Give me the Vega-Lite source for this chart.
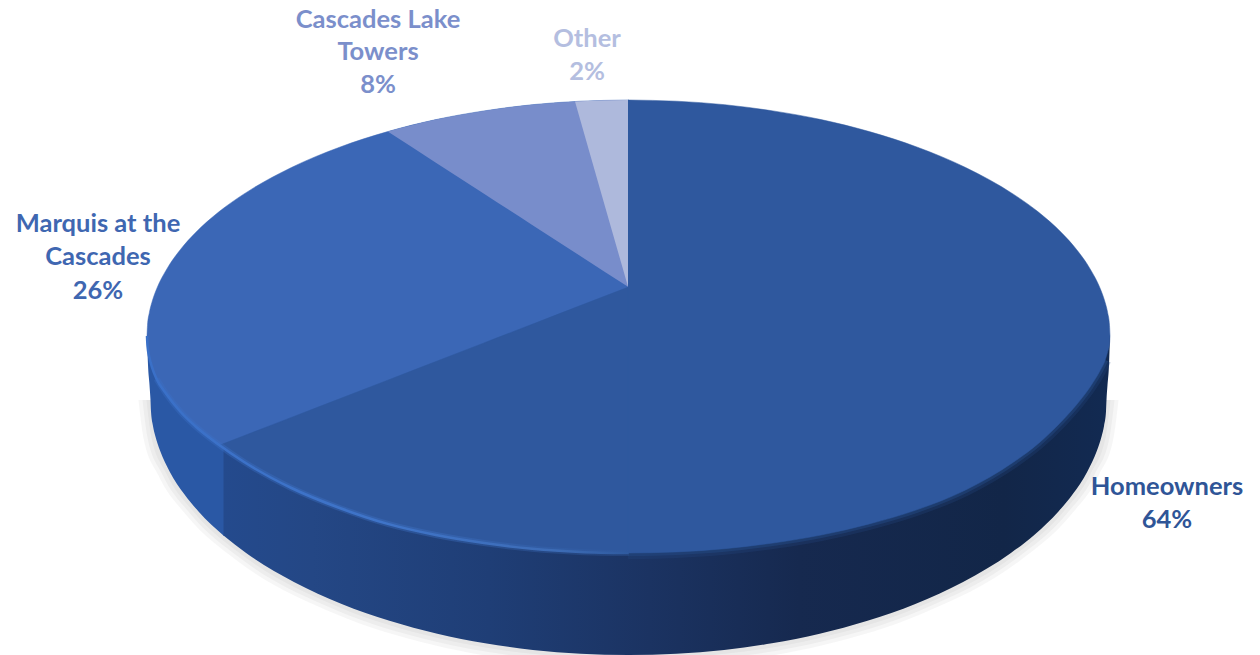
{
  "$schema": "https://vega.github.io/schema/vega-lite/v6.json",
  "width": 1260,
  "height": 655,
  "autosize": {"type": "fit", "contains": "padding"},
  "padding": 0,
  "background": "#ffffff",
  "config": {"view": {"stroke": null}},
  "datasets": {
    "shadow": [
      {"ring": 1, "x": 146.5, "y": 400, "y2": 400}, {"ring": 1, "x": 151.3, "y": 400, "y2": 436.5}, {"ring": 1, "x": 165.8, "y": 400, "y2": 472.5}, {"ring": 1, "x": 194.7, "y": 400, "y2": 512.9}, {"ring": 1, "x": 242.9, "y": 400, "y2": 555.4}, {"ring": 1, "x": 339.3, "y": 400, "y2": 607.2}, {"ring": 1, "x": 435.7, "y": 400, "y2": 637.5}, {"ring": 1, "x": 532.1, "y": 400, "y2": 653.8}, {"ring": 1, "x": 628.5, "y": 400, "y2": 659}, {"ring": 1, "x": 724.9, "y": 400, "y2": 653.8}, {"ring": 1, "x": 821.3, "y": 400, "y2": 637.5}, {"ring": 1, "x": 917.7, "y": 400, "y2": 607.2}, {"ring": 1, "x": 1014.1, "y": 400, "y2": 555.4}, {"ring": 1, "x": 1062.3, "y": 400, "y2": 512.9}, {"ring": 1, "x": 1091.2, "y": 400, "y2": 472.5}, {"ring": 1, "x": 1105.7, "y": 400, "y2": 436.5}, {"ring": 1, "x": 1110.5, "y": 400, "y2": 400},
      {"ring": 2, "x": 142.5, "y": 400, "y2": 400}, {"ring": 2, "x": 147.4, "y": 400, "y2": 437}, {"ring": 2, "x": 161.9, "y": 400, "y2": 473.6}, {"ring": 2, "x": 191.1, "y": 400, "y2": 514.7}, {"ring": 2, "x": 239.7, "y": 400, "y2": 557.8}, {"ring": 2, "x": 336.9, "y": 400, "y2": 610.4}, {"ring": 2, "x": 434.1, "y": 400, "y2": 641.2}, {"ring": 2, "x": 531.3, "y": 400, "y2": 657.7}, {"ring": 2, "x": 628.5, "y": 400, "y2": 663}, {"ring": 2, "x": 725.7, "y": 400, "y2": 657.7}, {"ring": 2, "x": 822.9, "y": 400, "y2": 641.2}, {"ring": 2, "x": 920.1, "y": 400, "y2": 610.4}, {"ring": 2, "x": 1017.3, "y": 400, "y2": 557.8}, {"ring": 2, "x": 1065.9, "y": 400, "y2": 514.7}, {"ring": 2, "x": 1095.1, "y": 400, "y2": 473.6}, {"ring": 2, "x": 1109.6, "y": 400, "y2": 437}, {"ring": 2, "x": 1114.5, "y": 400, "y2": 400},
      {"ring": 3, "x": 138.5, "y": 400, "y2": 400}, {"ring": 3, "x": 143.4, "y": 400, "y2": 437.6}, {"ring": 3, "x": 158.1, "y": 400, "y2": 474.8}, {"ring": 3, "x": 187.5, "y": 400, "y2": 516.4}, {"ring": 3, "x": 236.5, "y": 400, "y2": 560.2}, {"ring": 3, "x": 334.5, "y": 400, "y2": 613.6}, {"ring": 3, "x": 432.5, "y": 400, "y2": 644.8}, {"ring": 3, "x": 530.5, "y": 400, "y2": 661.7}, {"ring": 3, "x": 628.5, "y": 400, "y2": 667}, {"ring": 3, "x": 726.5, "y": 400, "y2": 661.7}, {"ring": 3, "x": 824.5, "y": 400, "y2": 644.8}, {"ring": 3, "x": 922.5, "y": 400, "y2": 613.6}, {"ring": 3, "x": 1020.5, "y": 400, "y2": 560.2}, {"ring": 3, "x": 1069.5, "y": 400, "y2": 516.4}, {"ring": 3, "x": 1099, "y": 400, "y2": 474.8}, {"ring": 3, "x": 1113.6, "y": 400, "y2": 437.6}, {"ring": 3, "x": 1118.5, "y": 400, "y2": 400}
    ],
    "rimMarquis": [
      {"x": 147, "y": 336, "y2": 336}, {"x": 148, "y": 336, "y2": 365}, {"x": 149.5, "y": 336, "y2": 385}, {"x": 150.5, "y": 336, "y2": 400}, {"x": 151, "y": 336, "y2": 411.4}, {"x": 152.9, "y": 336, "y2": 425.5}, {"x": 155.3, "y": 336, "y2": 436}, {"x": 160.1, "y": 336, "y2": 450.7}, {"x": 169.6, "y": 336, "y2": 471.4}, {"x": 184, "y": 336, "y2": 493.8}, {"x": 198.3, "y": 336, "y2": 511.2}, {"x": 224, "y": 336, "y2": 536}
    ],
    "rimHomeowners": [
      {"x": 223.5, "y": 336, "y2": 535.6}, {"x": 246.1, "y": 336, "y2": 553}, {"x": 293.9, "y": 336, "y2": 582}, {"x": 341.7, "y": 336, "y2": 604}, {"x": 389.5, "y": 336, "y2": 620.8}, {"x": 437.3, "y": 336, "y2": 633.8}, {"x": 485.1, "y": 336, "y2": 643.3}, {"x": 532.9, "y": 336, "y2": 649.9}, {"x": 580.7, "y": 336, "y2": 653.7}, {"x": 628.5, "y": 336, "y2": 655}, {"x": 676.3, "y": 336, "y2": 653.7}, {"x": 724.1, "y": 336, "y2": 649.9}, {"x": 771.9, "y": 336, "y2": 643.3}, {"x": 819.7, "y": 336, "y2": 633.8}, {"x": 867.5, "y": 336, "y2": 620.8}, {"x": 915.3, "y": 336, "y2": 604}, {"x": 963.1, "y": 336, "y2": 582}, {"x": 1010.9, "y": 336, "y2": 553}, {"x": 1034.8, "y": 336, "y2": 534.4}, {"x": 1058.7, "y": 336, "y2": 511.2}, {"x": 1073, "y": 336, "y2": 493.8}, {"x": 1087.4, "y": 336, "y2": 471.4}, {"x": 1096.9, "y": 336, "y2": 450.7}, {"x": 1101.7, "y": 336, "y2": 436}, {"x": 1104.1, "y": 336, "y2": 425.5}, {"x": 1106, "y": 336, "y2": 411.4}, {"x": 1106.5, "y": 336, "y2": 400}, {"x": 1107.5, "y": 336, "y2": 385}, {"x": 1109, "y": 336, "y2": 365}, {"x": 1110, "y": 336, "y2": 336}
    ],
    "faceMarquis": [
      {"x": 147, "y": 336, "y2": 336}, {"x": 147.5, "y": 325.4, "y2": 345.8}, {"x": 149.4, "y": 312.4, "y2": 357.7}, {"x": 151.8, "y": 302.7, "y2": 366.6}, {"x": 156.6, "y": 289, "y2": 379}, {"x": 166.3, "y": 269.9, "y2": 394}, {"x": 180.7, "y": 249.2, "y2": 412}, {"x": 195.1, "y": 233.1, "y2": 426}, {"x": 219.2, "y": 211.6, "y2": 445}, {"x": 243.3, "y": 194.4, "y2": 461.5}, {"x": 291.4, "y": 167.5, "y2": 488}, {"x": 339.6, "y": 147.2, "y2": 508}, {"x": 387.7, "y": 131.6, "y2": 523.9}, {"x": 435.9, "y": 119.6, "y2": 535}, {"x": 484, "y": 110.9, "y2": 543}, {"x": 532.2, "y": 104.7, "y2": 548.7}, {"x": 580.3, "y": 101.2, "y2": 551.9}, {"x": 629, "y": 100, "y2": 553}
    ],
    "faceHomeowners": [
      {"part": "left", "x": 220, "y": 445, "y2": 445}, {"part": "left", "x": 243.3, "y": 436, "y2": 461.5}, {"part": "left", "x": 291.4, "y": 417.4, "y2": 488}, {"part": "left", "x": 339.6, "y": 398.8, "y2": 508}, {"part": "left", "x": 387.7, "y": 380.2, "y2": 523.9}, {"part": "left", "x": 435.9, "y": 361.5, "y2": 535}, {"part": "left", "x": 484, "y": 342.9, "y2": 543}, {"part": "left", "x": 532.2, "y": 324.3, "y2": 548.7}, {"part": "left", "x": 580.3, "y": 305.6, "y2": 551.9}, {"part": "left", "x": 628.5, "y": 287, "y2": 553},
      {"part": "right", "x": 628, "y": 100, "y2": 553}, {"part": "right", "x": 676.7, "y": 101.2, "y2": 551.9}, {"part": "right", "x": 724.8, "y": 104.7, "y2": 548.7}, {"part": "right", "x": 773, "y": 110.9, "y2": 543}, {"part": "right", "x": 821.1, "y": 119.6, "y2": 535}, {"part": "right", "x": 869.3, "y": 131.6, "y2": 523.9}, {"part": "right", "x": 917.4, "y": 147.2, "y2": 509.6}, {"part": "right", "x": 965.6, "y": 167.5, "y2": 490}, {"part": "right", "x": 1013.7, "y": 194.4, "y2": 462}, {"part": "right", "x": 1037.8, "y": 211.6, "y2": 444}, {"part": "right", "x": 1061.9, "y": 233.1, "y2": 421}, {"part": "right", "x": 1076.3, "y": 249.2, "y2": 405}, {"part": "right", "x": 1090.7, "y": 269.9, "y2": 386}, {"part": "right", "x": 1100.4, "y": 289, "y2": 370}, {"part": "right", "x": 1105.2, "y": 302.7, "y2": 360}, {"part": "right", "x": 1107.6, "y": 312.4, "y2": 352}, {"part": "right", "x": 1109.5, "y": 325.4, "y2": 344}, {"part": "right", "x": 1110, "y": 336, "y2": 336}
    ],
    "faceCascades": [
      {"x": 387.7, "y": 131.6, "y2": 131.6}, {"x": 435.9, "y": 119.6, "y2": 162.7}, {"x": 484, "y": 110.9, "y2": 193.8}, {"x": 532.2, "y": 104.7, "y2": 224.9}, {"x": 580.3, "y": 101.2, "y2": 255.9}, {"x": 628, "y": 100, "y2": 286.7}
    ],
    "faceOther": [
      {"x": 575, "y": 101.4, "y2": 101.4}, {"x": 600, "y": 100.6, "y2": 188.9}, {"x": 628, "y": 100, "y2": 286.7}
    ],
    "bevelLeft": [
      {"x": 147, "y": 336}, {"x": 147.5, "y": 345.8}, {"x": 149.4, "y": 357.7}, {"x": 151.8, "y": 366.6}, {"x": 156.6, "y": 379}, {"x": 166.3, "y": 394}, {"x": 180.7, "y": 412}, {"x": 195.1, "y": 426}, {"x": 219.2, "y": 445}, {"x": 243.3, "y": 461.5}, {"x": 291.4, "y": 488}, {"x": 339.6, "y": 508}, {"x": 387.7, "y": 523.9}, {"x": 435.9, "y": 535}, {"x": 484, "y": 543}, {"x": 532.2, "y": 548.7}, {"x": 580.3, "y": 551.9}, {"x": 628.5, "y": 553}
    ],
    "bevelRight": [
      {"x": 628, "y": 553}, {"x": 676.7, "y": 551.9}, {"x": 724.8, "y": 548.7}, {"x": 773, "y": 543}, {"x": 821.1, "y": 535}, {"x": 869.3, "y": 523.9}, {"x": 917.4, "y": 509.6}, {"x": 965.6, "y": 490}, {"x": 1013.7, "y": 462}, {"x": 1037.8, "y": 444}, {"x": 1061.9, "y": 421}, {"x": 1076.3, "y": 405}, {"x": 1090.7, "y": 386}, {"x": 1100.4, "y": 370}, {"x": 1105.2, "y": 360}
    ],
    "nameLines": [
      {"slice": "Cascades Lake Towers", "line": "Cascades Lake", "x": 378, "y": 20},
      {"slice": "Cascades Lake Towers", "line": "Towers", "x": 378, "y": 52},
      {"slice": "Other", "line": "Other", "x": 587, "y": 39},
      {"slice": "Marquis at the Cascades", "line": "Marquis at the", "x": 98, "y": 224},
      {"slice": "Marquis at the Cascades", "line": "Cascades", "x": 98, "y": 257},
      {"slice": "Homeowners", "line": "Homeowners", "x": 1167, "y": 487}
    ],
    "shares": [
      {"slice": "Homeowners", "share": 0.64, "x": 1167, "y": 520},
      {"slice": "Marquis at the Cascades", "share": 0.26, "x": 98, "y": 291},
      {"slice": "Cascades Lake Towers", "share": 0.08, "x": 378, "y": 85},
      {"slice": "Other", "share": 0.02, "x": 587, "y": 72}
    ]
  },
  "encoding": {
    "x": {"field": "x", "type": "quantitative", "scale": {"domain": [0, 1260]}, "axis": null},
    "y": {"field": "y", "type": "quantitative", "scale": {"domain": [655, 0]}, "axis": null}
  },
  "layer": [
    {
      "data": {"name": "shadow"},
      "mark": {"type": "area", "interpolate": "monotone", "fill": "#6b6b6b", "fillOpacity": 0.06, "clip": true},
      "encoding": {"y2": {"field": "y2"}, "detail": {"field": "ring", "type": "nominal"}}
    },
    {
      "data": {"name": "rimMarquis"},
      "mark": {"type": "area", "interpolate": "monotone", "fill": "#2a58a5"},
      "encoding": {"y2": {"field": "y2"}}
    },
    {
      "data": {"name": "rimHomeowners"},
      "mark": {
        "type": "area",
        "interpolate": "monotone",
        "fill": {
          "gradient": "linear", "x1": 0, "x2": 1, "y1": 0, "y2": 0,
          "stops": [
            {"offset": 0, "color": "#244a8d"},
            {"offset": 0.1, "color": "#244785"},
            {"offset": 0.3, "color": "#1f3e76"},
            {"offset": 0.48, "color": "#1b3362"},
            {"offset": 0.65, "color": "#16294f"},
            {"offset": 0.88, "color": "#122648"},
            {"offset": 1, "color": "#122a52"}
          ]
        }
      },
      "encoding": {"y2": {"field": "y2"}}
    },
    {
      "data": {"name": "bevelRight"},
      "mark": {"type": "line", "interpolate": "monotone", "stroke": "#23477f", "strokeWidth": 12, "strokeOpacity": 0.3}
    },
    {
      "data": {"name": "bevelRight"},
      "mark": {"type": "line", "interpolate": "monotone", "stroke": "#23477f", "strokeWidth": 6, "strokeOpacity": 0.55}
    },
    {
      "data": {"name": "faceMarquis"},
      "mark": {"type": "area", "interpolate": "monotone", "fill": "#3b67b6", "stroke": "#3b67b6", "strokeWidth": 0.5},
      "encoding": {"y2": {"field": "y2"}}
    },
    {
      "data": {"name": "faceHomeowners"},
      "mark": {"type": "area", "interpolate": "monotone", "fill": "#2f589e", "stroke": "#2f589e", "strokeWidth": 0.5},
      "encoding": {"y2": {"field": "y2"}, "detail": {"field": "part", "type": "nominal"}}
    },
    {
      "data": {"name": "faceCascades"},
      "mark": {"type": "area", "interpolate": "monotone", "fill": "#788dcb"},
      "encoding": {"y2": {"field": "y2"}}
    },
    {
      "data": {"name": "faceOther"},
      "mark": {"type": "area", "interpolate": "monotone", "fill": "#aeb9dc"},
      "encoding": {"y2": {"field": "y2"}}
    },
    {
      "data": {"name": "bevelLeft"},
      "transform": [{"filter": "datum.x > 156"}],
      "mark": {
        "type": "line",
        "interpolate": "monotone",
        "strokeWidth": 6,
        "strokeOpacity": 0.35,
        "stroke": {
          "gradient": "linear", "x1": 0, "x2": 1, "y1": 0, "y2": 0,
          "stops": [
            {"offset": 0, "color": "#3a70c8"},
            {"offset": 0.6, "color": "#3f74c8"},
            {"offset": 1, "color": "#2f5a9f"}
          ]
        }
      }
    },
    {
      "data": {"name": "bevelLeft"},
      "mark": {
        "type": "line",
        "interpolate": "monotone",
        "strokeWidth": 2.5,
        "stroke": {
          "gradient": "linear", "x1": 0, "x2": 1, "y1": 0, "y2": 0,
          "stops": [
            {"offset": 0, "color": "#3a70c8"},
            {"offset": 0.5, "color": "#3f74c8"},
            {"offset": 0.85, "color": "#3d6cb6"},
            {"offset": 1, "color": "#2f5a9f"}
          ]
        }
      }
    },
    {
      "data": {"name": "nameLines"},
      "mark": {"type": "text", "font": "Lato", "fontWeight": "bold", "fontSize": 25.5, "align": "center", "baseline": "middle"},
      "encoding": {
        "text": {"field": "line", "type": "nominal"},
        "color": {
          "field": "slice", "type": "nominal", "legend": null,
          "scale": {
            "domain": ["Homeowners", "Marquis at the Cascades", "Cascades Lake Towers", "Other"],
            "range": ["#2f5597", "#3f67b1", "#7b8fcb", "#b4bee0"]
          }
        }
      }
    },
    {
      "data": {"name": "shares"},
      "mark": {"type": "text", "font": "Lato", "fontWeight": "bold", "fontSize": 25.5, "align": "center", "baseline": "middle"},
      "encoding": {
        "text": {"field": "share", "type": "quantitative", "format": ".0%"},
        "color": {
          "field": "slice", "type": "nominal", "legend": null,
          "scale": {
            "domain": ["Homeowners", "Marquis at the Cascades", "Cascades Lake Towers", "Other"],
            "range": ["#2f5597", "#3f67b1", "#7b8fcb", "#b4bee0"]
          }
        }
      }
    }
  ]
}
